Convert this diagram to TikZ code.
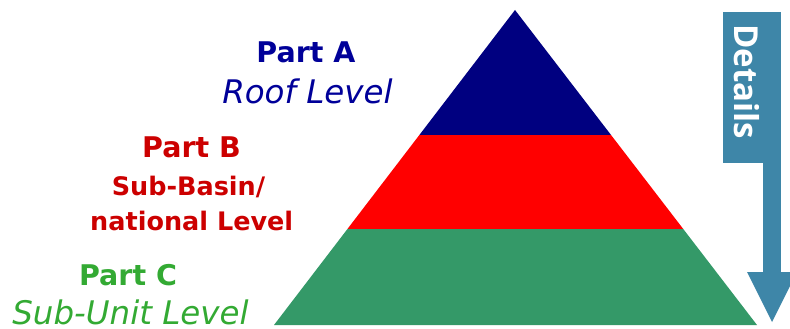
\documentclass[tikz,border=0pt]{standalone}
\usepackage{fontspec}
\setmainfont{DejaVu Sans}
\newfontfamily\detailsfont{Open Sans}
\usetikzlibrary{positioning,calc}

\definecolor{pyrblue}{RGB}{0,0,128}
\definecolor{pyrred}{RGB}{255,0,0}
\definecolor{pyrgreen}{RGB}{52,153,104}
\definecolor{arrowblue}{RGB}{62,134,168}
\definecolor{txtblue}{RGB}{0,0,153}
\definecolor{txtred}{RGB}{204,0,0}
\definecolor{txtgreen}{RGB}{51,170,51}

\begin{document}
\begin{tikzpicture}[
  x=1pt, y=-1pt,
  part/.style={anchor=base, inner sep=0pt, font=\fontsize{28.5}{30}\selectfont\bfseries},
  level/.style={anchor=base, inner sep=0pt, font=\fontsize{32.5}{34}\selectfont\itshape},
  sublevel/.style={anchor=base, inner sep=0pt, font=\fontsize{25.5}{28}\selectfont\bfseries},
]
  \useasboundingbox (0,0) rectangle (790,329);

  % pyramid
  \coordinate (apex) at (515,10);
  \coordinate (bl) at (274,325);
  \coordinate (br) at (757,325);
  \coordinate (al) at ($(apex)!0.397!(bl)$);
  \coordinate (ar) at ($(apex)!0.397!(br)$);
  \coordinate (bml) at ($(apex)!0.696!(bl)$);
  \coordinate (bmr) at ($(apex)!0.696!(br)$);
  \fill[pyrblue] (apex) -- (ar) -- (al) -- cycle;
  \fill[pyrred] (al) -- (ar) -- (bmr) -- (bml) -- cycle;
  \fill[pyrgreen] (bml) -- (bmr) -- (br) -- (bl) -- cycle;

  % details arrow
  \fill[arrowblue] (763,12) rectangle (781,272);
  \fill[arrowblue] (747,272) -- (797,272) -- (772,322) -- cycle;
  \fill[arrowblue] (722.5,12) rectangle (774,163);
  \node[anchor=base, rotate=-90, inner sep=0pt, text=white,
        font=\fontsize{33}{36}\selectfont\detailsfont\bfseries] (details) at (734.5,81.5) {Details};

  % labels
  \node[part, text=txtblue] (partA) at (306,62.7) {Part A};
  \node[level, text=txtblue] (roof) at (307.5,103) {Roof Level};
  \node[part, text=txtred] (partB) at (191.5,157.7) {Part B};
  \node[sublevel, text=txtred] (subbasin) at (188.5,195) {Sub-Basin/};
  \node[sublevel, text=txtred] (national) at (191.7,230.7) {national Level};
  \node[part, text=txtgreen] (partC) at (128,285) {Part C};
  \node[level, text=txtgreen] (subunit) at (130.5,324.5) {Sub-Unit Level};
\end{tikzpicture}
\end{document}
